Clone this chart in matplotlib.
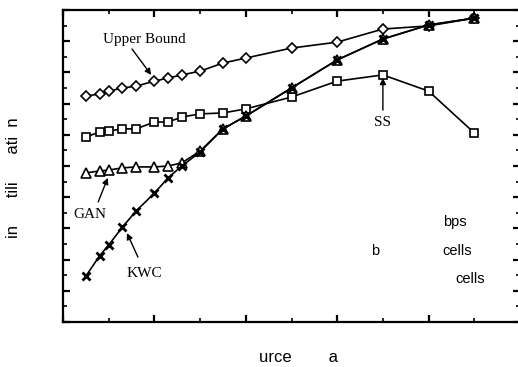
import matplotlib
matplotlib.use("Agg")
import matplotlib.pyplot as plt
from matplotlib.ticker import MultipleLocator

# ---- data ----
rate = [0.5, 0.8, 1.0, 1.3, 1.6, 2.0, 2.3, 2.6, 3.0, 3.5, 4.0, 5.0, 6.0, 7.0, 8.0, 9.0]
upper_bound = [0.724, 0.731, 0.740, 0.750, 0.756, 0.772, 0.782, 0.792, 0.804, 0.830, 0.846, 0.878, 0.897, 0.939, 0.949, 0.974]
ss = [0.593, 0.609, 0.612, 0.619, 0.619, 0.641, 0.641, 0.657, 0.667, 0.670, 0.683, 0.721, 0.772, 0.792, 0.740, 0.606]
gan = [0.478, 0.484, 0.487, 0.494, 0.497, 0.497, 0.500, 0.510, 0.548, 0.619, 0.660, 0.750, 0.840, 0.907, 0.952, 0.974]
kwc = [0.147, 0.212, 0.247, 0.304, 0.356, 0.413, 0.462, 0.500, 0.545, 0.619, 0.660, 0.750, 0.840, 0.907, 0.952, 0.974]

W, H = 518, 367
fig = plt.figure(figsize=(W / 100, H / 100), dpi=100)
ax = fig.add_axes([63 / W, (H - 322) / H, (520 - 63) / W, (322 - 10) / H])

lw = 1.2
ax.plot(rate, upper_bound, color="black", lw=lw, marker="D", ms=5, mfc="white", mec="black", mew=1.2)
ax.plot(rate, ss, color="black", lw=lw, marker="s", ms=5.5, mfc="white", mec="black", mew=1.2)
ax.plot(rate, gan, color="black", lw=lw, marker="^", ms=7, mfc="white", mec="black", mew=1.2)
ax.plot(rate, kwc, color="black", lw=lw, marker="x", ms=6, mec="black", mew=2.0)

ax.set_xlim(0, 10)
ax.set_ylim(0, 1)
ax.xaxis.set_major_locator(MultipleLocator(2))
ax.xaxis.set_minor_locator(MultipleLocator(1))
ax.yaxis.set_major_locator(MultipleLocator(0.1))
ax.yaxis.set_minor_locator(MultipleLocator(0.05))
ax.tick_params(which="both", direction="in", top=True, right=True,
               labelbottom=False, labelleft=False)
ax.tick_params(which="major", length=5, width=1.6)
ax.tick_params(which="minor", length=3, width=1.2)
for s in ax.spines.values():
    s.set_linewidth(1.6)

serif = "Liberation Serif"
sans = "Liberation Sans"
aprops = dict(arrowstyle="-|>", color="black", lw=1.0, mutation_scale=9, shrinkA=0, shrinkB=0)

ax.text(1.79, 0.904, "Upper Bound", family=serif, fontsize=11, ha="center", va="center")
ax.annotate("", xy=(1.93, 0.792), xytext=(1.51, 0.875), arrowprops=aprops)
ax.text(7.0, 0.638, "SS", family=serif, fontsize=11, ha="center", va="center")
ax.annotate("", xy=(7.0, 0.782), xytext=(7.0, 0.679), arrowprops=aprops)
ax.text(0.59, 0.343, "GAN", family=serif, fontsize=11, ha="center", va="center")
ax.annotate("", xy=(0.98, 0.462), xytext=(0.77, 0.385), arrowprops=aprops)
ax.text(1.77, 0.157, "KWC", family=serif, fontsize=11, ha="center", va="center")
ax.annotate("", xy=(1.40, 0.285), xytext=(1.64, 0.208), arrowprops=aprops)

ax.text(8.58, 0.321, "bps", family=sans, fontsize=10.5, ha="center", va="center")
ax.text(6.83, 0.228, "b", family=sans, fontsize=10.5, ha="center", va="center")
ax.text(8.62, 0.228, "cells", family=sans, fontsize=10.5, ha="center", va="center")
ax.text(8.90, 0.138, "cells", family=sans, fontsize=10.5, ha="center", va="center")

fig.text(14 / W, 1 - 238 / H, "in      tili      ati  n", family=sans, fontsize=12,
         rotation=90, ha="center", va="bottom")
fig.text(259 / W, 1 - 358 / H, "urce        a", family=sans, fontsize=12,
         ha="left", va="center")

fig.savefig("out.png", dpi=100)
